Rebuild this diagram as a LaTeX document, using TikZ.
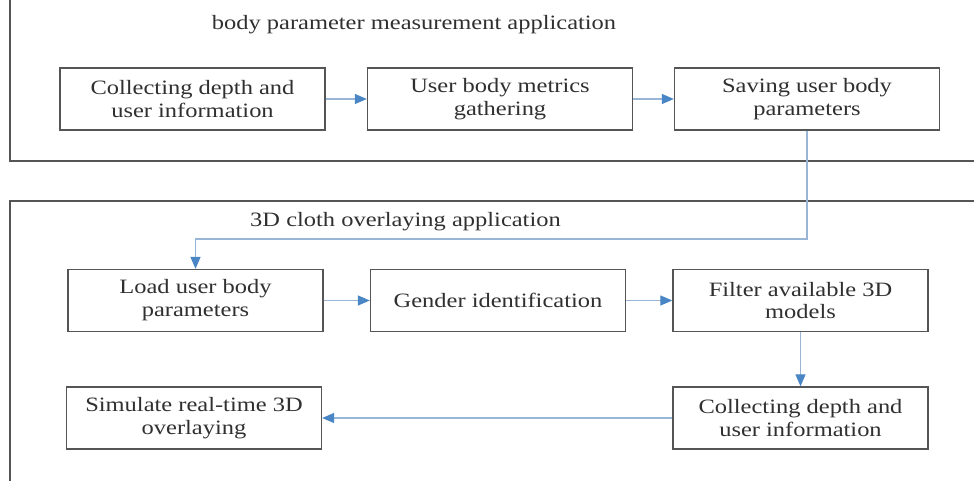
\documentclass[tikz,border=0pt]{standalone}
\usepackage{fontspec}
\setmainfont{Liberation Serif}[FakeStretch=1.2]
\usepackage{tikz}
\usetikzlibrary{arrows,arrows.meta,shapes,positioning}
\definecolor{boxgray}{HTML}{555555}
\definecolor{txtgray}{HTML}{303030}
\definecolor{flowblue}{HTML}{9AB6D6}
\definecolor{tipblue}{HTML}{4A86C5}

\begin{document}
\begin{tikzpicture}[x=0.025cm, y=0.025cm]
                    \tikzstyle{every node}+=[text=txtgray, font=\fontsize{14.5}{16.3}\selectfont]
                    \tikzstyle{box}=[draw=boxgray, line width=0.9pt, fill=white, align=center, minimum height=1.55cm, inner sep=0pt]
                    \tikzstyle{wide}=[box, minimum width=6.625cm]
                    \tikzstyle{narrow}=[box, minimum width=6.375cm]
                    \tikzstyle{panel}=[draw=boxgray, line width=1pt]
                    \tikzstyle{flow}=[draw=flowblue, line width=0.9pt, -{Triangle[length=0.3cm, width=0.25cm, color=tipblue]}]
                    \useasboundingbox (0,0) rectangle (974,-481);
                    % panels
                    \draw [panel] (10,0) -- (10,-161) -- (974,-161);
                    \draw [panel] (974,-201) -- (10,-201) -- (10,-481);
                    \node [anchor=base] (title1) at (414,-29) {body parameter measurement application};
                    \node [anchor=base] (title2) at (405.5,-226) {3D cloth overlaying application};
                    % first application
                    \node [wide] (collect) at (192.5,-99) {Collecting depth and\\user information};
                    \node [wide] (gather) at (500,-99) {User body metrics\\gathering};
                    \node [wide] (save) at (807,-99) {Saving user body\\parameters};
                    % second application
                    \node [narrow] (load) at (195.5,-300.5) {Load user body\\parameters};
                    \node [narrow] (gender) at (498,-300.5) {Gender identification};
                    \node [narrow] (filter) at (800.5,-300.5) {Filter available 3D\\models};
                    \node [narrow] (collect2) at (800.5,-418) {Collecting depth and\\user information};
                    \node [narrow] (simulate) at (194,-418) {Simulate real-time 3D\\overlaying};
                    \coordinate (turn) at (807,-239);
                    \draw [flow] (collect) -- (gather);
                    \draw [flow] (gather) -- (save);
                    \draw [flow] (save.south) -- (turn) -| (load.north);
                    \draw [flow] (load) -- (gender);
                    \draw [flow] (gender) -- (filter);
                    \draw [flow] (filter) -- (collect2);
                    \draw [flow] (collect2) -- (simulate);
                \end{tikzpicture}
\end{document}
